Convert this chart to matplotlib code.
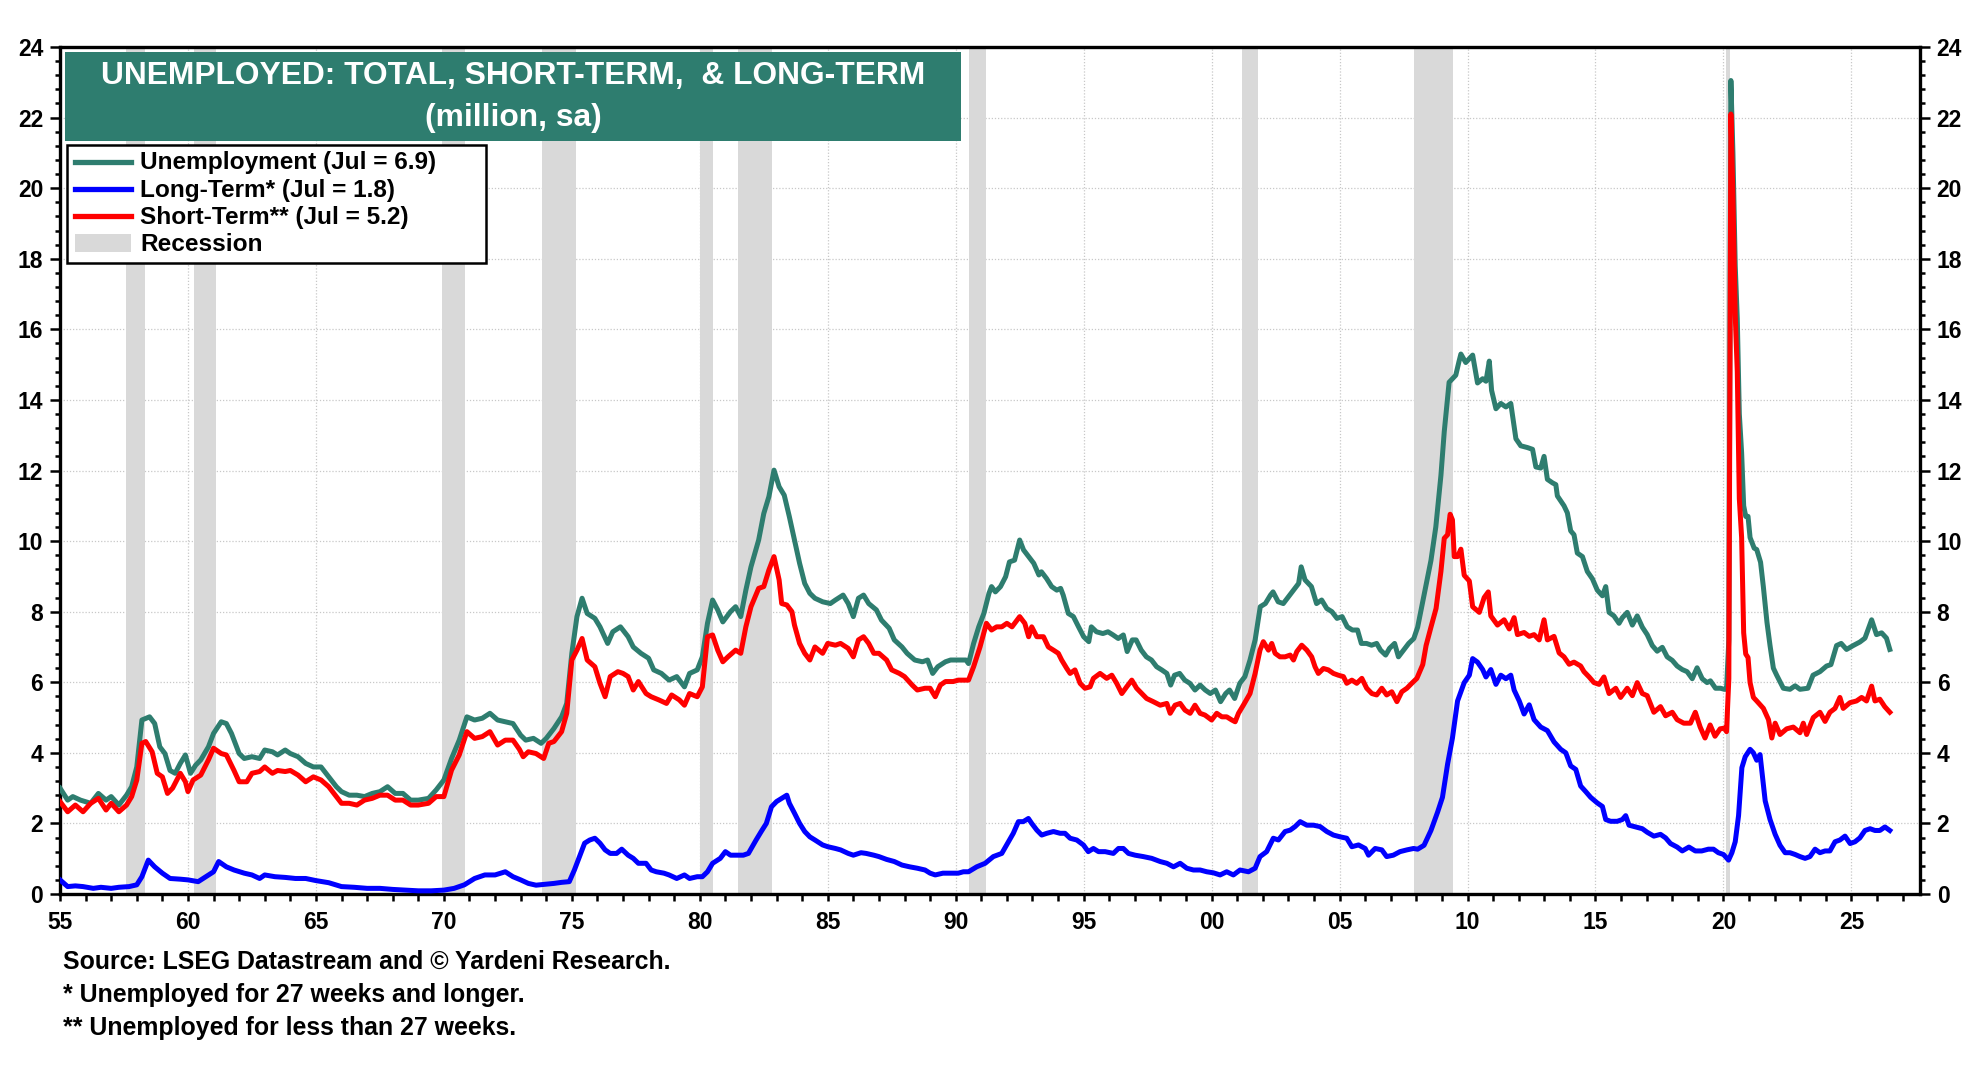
import matplotlib
matplotlib.use('Agg')
import matplotlib.pyplot as plt
from matplotlib.patches import Rectangle
from matplotlib.lines import Line2D
from matplotlib.ticker import MultipleLocator, FuncFormatter

# ---------------- DATA (million, sa) ----------------
total_x = [1955.0,1955.3,1955.5,1955.8,1956.2,1956.5,1956.8,1957.0,1957.3,1957.6,1957.8,1958.0,1958.2,1958.5,1958.7,1958.9,
           1959.1,1959.3,1959.5,1959.7,1959.9,1960.1,1960.3,1960.5,1960.8,1961.0,1961.3,1961.5,1961.7,1962.0,1962.2,1962.5,
           1962.8,1963.0,1963.3,1963.5,1963.8,1964.0,1964.3,1964.6,1964.9,1965.2,1965.5,1965.8,1966.0,1966.3,1966.6,1966.9,
           1967.2,1967.5,1967.8,1968.1,1968.4,1968.7,1969.0,1969.4,1969.7,1970.0,1970.3,1970.6,1970.9,1971.2,1971.5,1971.8,
           1972.1,1972.4,1972.7,1973.0,1973.2,1973.5,1973.8,1974.0,1974.3,1974.6,1974.8,1975.0,1975.2,1975.4,1975.6,1975.9,
           1976.1,1976.4,1976.6,1976.9,1977.2,1977.4,1977.7,1978.0,1978.2,1978.5,1978.8,1979.1,1979.4,1979.6,1979.9,1980.1,
           1980.3,1980.5,1980.7,1980.9,1981.2,1981.4,1981.6,1981.8,1982.0,1982.3,1982.5,1982.7,1982.9,1983.1,1983.3,1983.5,
           1983.7,1983.9,1984.1,1984.3,1984.5,1984.8,1985.1,1985.3,1985.6,1985.8,1986.0,1986.2,1986.4,1986.6,1986.9,1987.1,
           1987.4,1987.6,1987.9,1988.1,1988.4,1988.7,1988.9,1989.1,1989.3,1989.6,1989.8,1990.1,1990.4,1990.5,1990.7,1990.9,
           1991.1,1991.3,1991.4,1991.55,1991.75,1991.95,1992.1,1992.3,1992.5,1992.65,1992.85,1993.05,1993.25,1993.35,1993.55,
           1993.75,1993.95,1994.1,1994.2,1994.4,1994.6,1994.8,1995.0,1995.2,1995.3,1995.5,1995.75,1995.95,1996.15,1996.35,
           1996.55,1996.7,1996.9,1997.05,1997.25,1997.45,1997.65,1997.85,1998.05,1998.25,1998.4,1998.55,1998.75,1998.95,
           1999.15,1999.35,1999.55,1999.75,1999.95,2000.15,2000.35,2000.55,2000.7,2000.9,2001.1,2001.3,2001.5,2001.7,2001.9,
           2002.1,2002.3,2002.4,2002.6,2002.8,2003.0,2003.2,2003.4,2003.5,2003.65,2003.9,2004.1,2004.3,2004.5,2004.7,2004.9,
           2005.1,2005.3,2005.5,2005.7,2005.85,2006.05,2006.25,2006.45,2006.6,2006.8,2006.95,2007.15,2007.3,2007.5,2007.7,
           2007.9,2008.05,2008.31,2008.57,2008.76,2008.96,2009.09,2009.28,2009.41,2009.54,2009.67,2009.74,2009.93,2010.2,
           2010.39,2010.59,2010.72,2010.85,2010.94,2011.11,2011.3,2011.5,2011.69,2011.89,2012.08,2012.34,2012.54,2012.67,
           2012.86,2012.99,2013.12,2013.32,2013.45,2013.51,2013.77,2013.9,2014.03,2014.16,2014.29,2014.49,2014.68,2014.88,
           2015.07,2015.27,2015.4,2015.53,2015.72,2015.92,2016.05,2016.24,2016.44,2016.63,2016.83,2017.02,2017.22,2017.41,
           2017.61,2017.8,2018.0,2018.19,2018.39,2018.58,2018.78,2018.97,2019.17,2019.36,2019.49,2019.69,2019.88,2020.04,
           2020.12,2020.21,2020.29,2020.37,2020.46,2020.54,2020.62,2020.71,2020.79,2020.87,2020.96,2021.04,2021.2,2021.3,
           2021.45,2021.56,2021.7,2021.82,2021.95,2022.08,2022.34,2022.6,2022.8,2022.99,2023.3,2023.5,2023.77,2024.03,2024.2,
           2024.42,2024.6,2024.81,2025.07,2025.33,2025.53,2025.79,2025.98,2026.18,2026.37,2026.5]
total_y = [3.0,2.66,2.76,2.66,2.57,2.85,2.66,2.76,2.52,2.8,3.04,3.6,4.93,5.02,4.83,4.17,
           3.98,3.5,3.42,3.7,3.94,3.42,3.65,3.8,4.17,4.55,4.88,4.83,4.55,3.98,3.84,3.89,
           3.84,4.08,4.03,3.94,4.08,3.98,3.89,3.7,3.6,3.6,3.32,3.04,2.9,2.8,2.8,2.76,
           2.85,2.9,3.04,2.85,2.85,2.66,2.66,2.71,2.95,3.23,3.84,4.36,5.02,4.93,4.98,5.12,
           4.93,4.88,4.83,4.5,4.36,4.41,4.27,4.41,4.69,5.02,5.4,6.82,7.86,8.38,7.95,7.81,
           7.57,7.1,7.43,7.57,7.29,7.0,6.82,6.68,6.35,6.25,6.06,6.16,5.87,6.25,6.35,6.72,
           7.67,8.33,8.05,7.71,8.0,8.14,7.86,8.61,9.27,10.03,10.78,11.26,12.01,11.54,11.3,10.69,
           10.03,9.37,8.8,8.52,8.38,8.28,8.23,8.33,8.47,8.23,7.86,8.38,8.47,8.23,8.05,7.76,
           7.53,7.2,7.0,6.82,6.63,6.58,6.63,6.25,6.44,6.58,6.63,6.63,6.63,6.53,7.1,7.57,
           7.95,8.52,8.71,8.56,8.71,8.99,9.41,9.46,10.03,9.75,9.56,9.37,9.04,9.13,8.94,
           8.71,8.61,8.66,8.47,7.95,7.86,7.57,7.29,7.15,7.57,7.43,7.38,7.43,7.34,7.24,
           7.34,6.87,7.2,7.2,6.91,6.72,6.63,6.44,6.35,6.25,5.92,6.2,6.25,6.06,
           5.97,5.78,5.92,5.78,5.68,5.78,5.45,5.68,5.78,5.54,5.97,6.16,6.63,7.2,8.14,
           8.23,8.47,8.56,8.28,8.23,8.42,8.61,8.8,9.27,8.9,8.71,8.23,8.33,8.09,8.0,7.81,
           7.86,7.57,7.48,7.48,7.1,7.1,7.05,7.1,6.91,6.77,6.96,7.1,6.72,6.91,7.1,
           7.24,7.56,8.5,9.45,10.4,11.86,13.1,14.5,14.6,14.7,15.1,15.3,15.06,15.27,
           14.48,14.6,14.53,15.1,14.27,13.75,13.9,13.8,13.9,12.9,12.7,12.65,12.6,12.1,
           12.07,12.4,11.75,11.65,11.6,11.28,11.0,10.8,10.29,10.18,9.66,9.56,9.14,8.93,
           8.61,8.45,8.71,7.98,7.88,7.67,7.83,7.98,7.62,7.88,7.56,7.35,7.04,6.88,
           6.99,6.72,6.62,6.46,6.36,6.3,6.1,6.41,6.1,5.99,6.04,5.83,5.83,5.8,
           5.8,7.2,23.05,21.0,17.8,16.3,13.6,12.5,11.0,10.7,10.7,10.1,9.8,9.76,
           9.4,8.7,7.7,7.04,6.4,6.2,5.83,5.8,5.9,5.8,5.83,6.2,6.3,6.46,6.5,
           7.04,7.1,6.93,7.04,7.14,7.25,7.77,7.35,7.4,7.25,6.93]

short_x = [1955.0,1955.3,1955.6,1955.9,1956.2,1956.5,1956.8,1957.0,1957.3,1957.6,1957.8,1958.0,1958.2,1958.35,1958.6,1958.8,
           1959.0,1959.2,1959.4,1959.7,1959.9,1960.0,1960.2,1960.5,1960.8,1961.0,1961.3,1961.5,1961.8,1962.0,1962.3,1962.5,
           1962.8,1963.0,1963.3,1963.5,1963.8,1964.0,1964.3,1964.6,1964.9,1965.2,1965.5,1965.8,1966.0,1966.3,1966.6,1966.9,
           1967.2,1967.5,1967.8,1968.1,1968.4,1968.7,1969.0,1969.4,1969.7,1970.0,1970.3,1970.6,1970.9,1971.2,1971.5,1971.8,
           1972.1,1972.4,1972.7,1972.95,1973.1,1973.3,1973.6,1973.9,1974.1,1974.3,1974.6,1974.8,1975.0,1975.2,1975.4,1975.6,
           1975.9,1976.1,1976.3,1976.5,1976.8,1977.0,1977.2,1977.4,1977.6,1977.9,1978.1,1978.4,1978.7,1978.9,1979.2,1979.4,
           1979.6,1979.9,1980.1,1980.3,1980.5,1980.7,1980.9,1981.1,1981.4,1981.6,1981.8,1982.0,1982.3,1982.5,1982.7,1982.9,
           1983.1,1983.2,1983.4,1983.6,1983.7,1983.9,1984.1,1984.3,1984.5,1984.8,1985.0,1985.3,1985.5,1985.8,1986.0,1986.2,
           1986.4,1986.6,1986.8,1987.0,1987.3,1987.5,1987.8,1988.0,1988.3,1988.5,1988.8,1989.0,1989.2,1989.4,1989.6,1989.9,
           1990.1,1990.5,1990.7,1990.95,1991.2,1991.4,1991.6,1991.8,1992.0,1992.2,1992.4,1992.5,1992.7,1992.85,1992.97,
           1993.17,1993.43,1993.62,1993.82,1994.01,1994.14,1994.34,1994.47,1994.66,1994.86,1995.05,1995.25,1995.38,1995.64,
           1995.9,1996.1,1996.29,1996.49,1996.68,1996.88,1997.07,1997.27,1997.46,1997.72,1997.99,1998.25,1998.38,1998.57,
           1998.77,1998.96,1999.16,1999.35,1999.55,1999.74,2000.0,2000.2,2000.4,2000.59,2000.79,2000.92,2001.05,2001.24,
           2001.5,2001.7,2001.89,2002.02,2002.22,2002.35,2002.48,2002.67,2002.87,2003.07,2003.2,2003.33,2003.52,2003.72,
           2003.91,2004.04,2004.17,2004.37,2004.56,2004.76,2004.95,2005.15,2005.28,2005.48,2005.67,2005.87,2006.06,2006.26,
           2006.45,2006.65,2006.84,2007.04,2007.24,2007.43,2007.63,2007.82,2008.02,2008.25,2008.38,2008.57,2008.77,2008.96,
           2009.09,2009.22,2009.32,2009.41,2009.48,2009.61,2009.74,2009.87,2010.07,2010.2,2010.46,2010.65,2010.81,2010.91,
           2011.17,2011.43,2011.63,2011.82,2011.95,2012.21,2012.41,2012.6,2012.8,2012.99,2013.12,2013.38,2013.58,2013.77,
           2013.97,2014.16,2014.42,2014.55,2014.75,2014.94,2015.14,2015.33,2015.53,2015.79,2015.98,2016.24,2016.44,2016.63,
           2016.83,2017.02,2017.28,2017.54,2017.74,2018.0,2018.19,2018.45,2018.71,2018.9,2019.09,2019.28,2019.48,2019.67,
           2019.87,2020.04,2020.12,2020.21,2020.29,2020.37,2020.46,2020.54,2020.62,2020.71,2020.79,2020.87,2020.96,2021.04,
           2021.17,2021.3,2021.56,2021.76,2021.89,2022.02,2022.21,2022.47,2022.73,2022.99,2023.12,2023.25,2023.51,2023.77,
           2023.97,2024.16,2024.36,2024.55,2024.68,2024.94,2025.2,2025.4,2025.59,2025.79,2025.92,2026.11,2026.3,2026.5]
short_y = [2.62,2.33,2.52,2.33,2.57,2.71,2.38,2.57,2.33,2.52,2.76,3.23,4.27,4.32,4.03,3.42,
           3.32,2.85,3.0,3.42,3.18,2.9,3.23,3.37,3.8,4.13,3.98,3.94,3.5,3.18,3.18,3.42,
           3.47,3.6,3.42,3.5,3.47,3.5,3.37,3.18,3.32,3.23,3.04,2.76,2.57,2.57,2.52,2.66,
           2.71,2.8,2.8,2.66,2.66,2.52,2.52,2.57,2.76,2.76,3.51,3.94,4.6,4.41,4.46,4.6,
           4.22,4.36,4.36,4.1,3.89,4.03,3.98,3.84,4.27,4.32,4.6,5.12,6.63,6.91,7.24,6.63,
           6.44,5.97,5.59,6.16,6.3,6.25,6.16,5.78,6.02,5.68,5.59,5.5,5.4,5.64,5.5,5.35,
           5.68,5.59,5.87,7.29,7.34,6.91,6.58,6.72,6.91,6.82,7.57,8.14,8.66,8.71,9.18,9.56,
           8.9,8.23,8.19,8.0,7.62,7.1,6.82,6.63,7.0,6.82,7.1,7.05,7.1,6.96,6.72,7.2,
           7.29,7.1,6.82,6.82,6.63,6.35,6.25,6.16,5.92,5.78,5.83,5.83,5.59,5.92,6.02,6.02,
           6.06,6.06,6.44,7.0,7.67,7.48,7.57,7.57,7.67,7.57,7.76,7.86,7.67,7.29,7.57,
           7.29,7.29,7.0,6.91,6.82,6.63,6.39,6.25,6.35,5.97,5.83,5.87,6.11,6.25,
           6.11,6.2,5.97,5.68,5.87,6.06,5.83,5.68,5.54,5.45,5.35,5.4,5.12,5.35,
           5.4,5.21,5.12,5.35,5.12,5.07,4.93,5.12,5.02,5.02,4.93,4.88,5.12,5.35,
           5.68,6.25,6.91,7.15,6.91,7.1,6.82,6.72,6.72,6.77,6.63,6.87,7.05,6.91,
           6.72,6.44,6.25,6.39,6.35,6.25,6.2,6.16,5.97,6.06,5.97,6.11,5.83,5.68,
           5.64,5.83,5.64,5.73,5.45,5.73,5.83,5.97,6.11,6.5,7.04,7.56,8.09,9.14,
           10.08,10.18,10.76,10.6,9.56,9.56,9.77,9.03,8.87,8.14,7.98,8.4,8.56,7.88,
           7.62,7.77,7.51,7.83,7.35,7.41,7.3,7.35,7.2,7.77,7.2,7.3,6.83,6.72,
           6.51,6.57,6.46,6.3,6.15,5.99,5.94,6.15,5.68,5.83,5.57,5.83,5.62,5.99,
           5.68,5.62,5.15,5.31,5.05,5.15,4.94,4.84,4.84,5.15,4.73,4.42,4.79,4.47,
           4.68,4.7,4.6,6.1,22.1,19.8,16.4,14.8,11.2,10.1,7.4,6.8,6.7,5.99,
           5.57,5.47,5.26,4.94,4.42,4.84,4.52,4.68,4.73,4.57,4.84,4.52,5.0,5.15,
           4.89,5.15,5.26,5.57,5.26,5.42,5.47,5.57,5.47,5.89,5.47,5.52,5.31,5.15]

long_x = [1955.0,1955.3,1955.6,1955.9,1956.3,1956.6,1957.0,1957.3,1957.7,1958.0,1958.2,1958.45,1958.7,1959.0,1959.3,1959.7,
          1960.0,1960.4,1960.7,1961.0,1961.2,1961.5,1961.8,1962.2,1962.5,1962.8,1963.0,1963.4,1963.8,1964.2,1964.6,1965.0,
          1965.5,1966.0,1966.5,1967.0,1967.5,1968.0,1968.5,1969.0,1969.5,1970.0,1970.4,1970.8,1971.2,1971.6,1972.0,1972.4,
          1972.7,1973.0,1973.3,1973.6,1974.0,1974.3,1974.6,1974.9,1975.1,1975.3,1975.5,1975.7,1975.9,1976.1,1976.3,1976.5,
          1976.75,1976.95,1977.2,1977.4,1977.6,1977.9,1978.1,1978.3,1978.6,1978.8,1979.1,1979.4,1979.6,1979.9,1980.1,1980.3,
          1980.5,1980.8,1981.0,1981.2,1981.5,1981.7,1981.9,1982.2,1982.4,1982.6,1982.8,1983.0,1983.2,1983.4,1983.5,1983.7,
          1983.9,1984.1,1984.3,1984.5,1984.8,1985.0,1985.3,1985.5,1985.8,1986.0,1986.3,1986.5,1986.8,1987.0,1987.3,1987.6,
          1987.9,1988.2,1988.5,1988.8,1989.0,1989.2,1989.5,1989.8,1990.1,1990.3,1990.5,1990.82,1991.15,1991.47,1991.8,
          1991.99,1992.25,1992.45,1992.64,1992.84,1992.97,1993.17,1993.36,1993.56,1993.82,1994.08,1994.27,1994.47,1994.73,
          1994.99,1995.18,1995.38,1995.58,1995.84,1996.16,1996.36,1996.55,1996.75,1997.01,1997.33,1997.66,1997.99,1998.25,
          1998.51,1998.77,1999.03,1999.29,1999.55,1999.81,2000.07,2000.33,2000.59,2000.85,2001.11,2001.44,2001.7,2001.89,
          2002.15,2002.41,2002.61,2002.87,2003.07,2003.26,2003.46,2003.72,2003.98,2004.24,2004.5,2004.76,2005.02,2005.28,
          2005.48,2005.74,2006.0,2006.13,2006.39,2006.65,2006.84,2007.1,2007.36,2007.63,2007.89,2008.05,2008.3,2008.57,
          2008.83,2009.02,2009.22,2009.41,2009.61,2009.87,2010.07,2010.2,2010.39,2010.59,2010.72,2010.91,2011.11,2011.3,
          2011.5,2011.69,2011.82,2012.02,2012.21,2012.41,2012.6,2012.86,2013.12,2013.38,2013.64,2013.84,2014.03,2014.23,
          2014.42,2014.62,2014.81,2015.07,2015.27,2015.4,2015.59,2015.85,2016.05,2016.18,2016.31,2016.57,2016.83,2017.02,
          2017.28,2017.54,2017.74,2017.93,2018.19,2018.39,2018.65,2018.9,2019.15,2019.41,2019.61,2019.8,2020.0,2020.2,
          2020.33,2020.46,2020.59,2020.72,2020.85,2021.04,2021.17,2021.3,2021.43,2021.63,2021.82,2022.02,2022.21,2022.41,
          2022.6,2022.8,2022.99,2023.19,2023.38,2023.58,2023.77,2023.97,2024.16,2024.36,2024.55,2024.75,2024.95,2025.14,
          2025.33,2025.53,2025.73,2025.92,2026.11,2026.31,2026.5]
long_y = [0.40,0.21,0.23,0.21,0.16,0.19,0.16,0.19,0.21,0.26,0.49,0.96,0.77,0.59,0.44,0.42,
          0.40,0.35,0.49,0.63,0.92,0.77,0.68,0.59,0.54,0.44,0.54,0.49,0.47,0.44,0.44,0.38,
          0.32,0.21,0.19,0.16,0.16,0.13,0.11,0.09,0.09,0.11,0.16,0.26,0.44,0.54,0.54,0.63,
          0.49,0.40,0.30,0.25,0.28,0.30,0.33,0.35,0.68,1.06,1.44,1.53,1.58,1.44,1.25,1.15,
          1.15,1.27,1.1,1.01,0.87,0.87,0.68,0.63,0.59,0.54,0.44,0.54,0.44,0.49,0.49,0.63,
          0.87,1.01,1.2,1.1,1.1,1.1,1.15,1.53,1.77,2.0,2.47,2.62,2.71,2.8,2.57,2.29,
          2.0,1.77,1.62,1.53,1.39,1.34,1.29,1.25,1.15,1.1,1.17,1.15,1.1,1.06,0.98,0.92,
          0.82,0.77,0.73,0.68,0.59,0.54,0.59,0.59,0.59,0.63,0.63,0.77,0.87,1.06,1.15,
          1.39,1.72,2.05,2.05,2.14,2.0,1.81,1.67,1.72,1.77,1.72,1.72,1.58,1.53,
          1.39,1.2,1.29,1.2,1.2,1.15,1.29,1.29,1.15,1.1,1.06,1.01,0.92,0.87,
          0.77,0.87,0.73,0.68,0.68,0.63,0.6,0.54,0.63,0.54,0.68,0.63,0.73,1.06,
          1.2,1.58,1.53,1.77,1.81,1.91,2.05,1.95,1.95,1.91,1.77,1.67,1.62,1.58,
          1.34,1.39,1.29,1.1,1.29,1.25,1.06,1.1,1.2,1.25,1.29,1.27,1.38,1.8,
          2.32,2.74,3.68,4.42,5.47,5.99,6.2,6.67,6.57,6.36,6.15,6.36,5.94,6.2,
          6.1,6.2,5.78,5.47,5.1,5.36,4.94,4.73,4.63,4.31,4.1,4.0,3.63,3.53,
          3.06,2.9,2.74,2.58,2.48,2.11,2.06,2.06,2.11,2.22,1.95,1.9,1.85,1.75,
          1.64,1.69,1.59,1.43,1.33,1.22,1.33,1.22,1.22,1.27,1.27,1.17,1.12,0.96,
          1.17,1.48,2.22,3.58,3.89,4.1,4.0,3.79,3.95,2.64,2.11,1.69,1.38,1.17,
          1.17,1.12,1.06,1.01,1.06,1.27,1.17,1.22,1.22,1.48,1.53,1.64,1.43,1.48,
          1.59,1.8,1.85,1.8,1.8,1.9,1.8]

recession_start = [1957.58, 1960.25, 1969.92, 1973.83, 1980.0, 1981.5, 1990.5, 2001.17, 2007.92, 2020.08]
recession_end   = [1958.33, 1961.08, 1970.83, 1975.17, 1980.5, 1982.83, 1991.17, 2001.83, 2009.42, 2020.25]

title_lines = ["UNEMPLOYED: TOTAL, SHORT-TERM,  & LONG-TERM", "(million, sa)"]
legend_labels = ["Unemployment (Jul = 6.9)", "Long-Term* (Jul = 1.8)", "Short-Term** (Jul = 5.2)", "Recession"]
footnotes = ["Source: LSEG Datastream and \u00a9 Yardeni Research.",
             "* Unemployed for 27 weeks and longer.",
             "** Unemployed for less than 27 weeks."]

# ---------------- STYLE ----------------
TEAL = '#2E7D6F'
BLUE = '#0000FF'
RED = '#FF0000'
GREY = '#D9D9D9'

plt.rcParams['font.family'] = ['Liberation Sans', 'DejaVu Sans']
plt.rcParams['font.weight'] = 'bold'

W, H = 1980, 1080
fig = plt.figure(figsize=(W / 100, H / 100), dpi=100)
ax = fig.add_axes([60 / W, 1 - 894 / H, 1860 / W, 847 / H])

for s, e in zip(recession_start, recession_end):
    ax.axvspan(s, e, color=GREY, lw=0, zorder=1)

ax.plot(total_x, total_y, color=TEAL, lw=3.6, zorder=3, solid_joinstyle='round')
ax.plot(long_x, long_y, color=BLUE, lw=3.6, zorder=4, solid_joinstyle='round')
ax.plot(short_x, short_y, color=RED, lw=3.6, zorder=5, solid_joinstyle='round')

ax.set_xlim(1955, 2027.68)
ax.set_ylim(0, 24)
ax.xaxis.set_major_locator(MultipleLocator(5))
ax.xaxis.set_minor_locator(MultipleLocator(1))
ax.yaxis.set_major_locator(MultipleLocator(2))
ax.yaxis.set_minor_locator(MultipleLocator(0.4))
ax.xaxis.set_major_formatter(FuncFormatter(lambda v, p: f"{int(round(v)) % 100:02d}"))
ax.yaxis.set_major_formatter(FuncFormatter(lambda v, p: f"{int(round(v))}"))

ax.grid(which='major', color='#C8C8C8', lw=0.9, ls=(0, (1, 1.5)), zorder=0)
ax.set_axisbelow(True)

for sp in ax.spines.values():
    sp.set_linewidth(2.4)
    sp.set_color('black')

ax.tick_params(axis='y', which='both', direction='out', left=True, right=True,
               labelleft=True, labelright=True, width=1.8, labelsize=16.5)
ax.tick_params(axis='y', which='major', length=7, pad=5)
ax.tick_params(axis='y', which='minor', length=3.6)
ax.tick_params(axis='x', which='both', direction='out', width=1.8, labelsize=16.5)
ax.tick_params(axis='x', which='major', length=5, pad=7.5)
ax.tick_params(axis='x', which='minor', length=5)
for lab in ax.get_xticklabels() + ax.get_yticklabels():
    lab.set_fontweight('bold')

def fx(px):
    return px / W

def fy(py):
    return 1 - py / H

# Title box
fig.add_artist(Rectangle((fx(65), fy(141)), (961 - 65) / W, (141 - 52) / H,
                         transform=fig.transFigure, facecolor=TEAL, edgecolor='none', zorder=10))
fig.text(fx(513), fy(84), title_lines[0], color='white', fontsize=22.9, fontweight='bold',
         ha='center', va='baseline', zorder=11)
fig.text(fx(513), fy(126), title_lines[1], color='white', fontsize=22.9, fontweight='bold',
         ha='center', va='baseline', zorder=11)

# Legend box
fig.add_artist(Rectangle((fx(67), fy(263)), (486 - 67) / W, (263 - 145) / H,
                         transform=fig.transFigure, facecolor='white', edgecolor='black',
                         lw=1.8, zorder=10))
handle_colors = [TEAL, BLUE, RED]
row_center = [162, 189, 216]
row_base = [169.5, 196.7, 224, 251.3]
for c, yc in zip(handle_colors, row_center):
    fig.add_artist(Line2D([fx(75), fx(131)], [fy(yc), fy(yc)], transform=fig.transFigure,
                          color=c, lw=3.8, zorder=11))
fig.add_artist(Rectangle((fx(75), fy(252)), 56 / W, 18 / H, transform=fig.transFigure,
                         facecolor=GREY, edgecolor='none', zorder=11))
for lab, yb in zip(legend_labels, row_base):
    fig.text(fx(140), fy(yb), lab, fontsize=17.6, fontweight='bold', color='black',
             ha='left', va='baseline', zorder=11)

# Footnotes
for txt, yb in zip(footnotes, [969, 1002, 1035]):
    fig.text(fx(63), fy(yb), txt, fontsize=17.9, fontweight='bold', color='black',
             ha='left', va='baseline')

fig.savefig('out.png', dpi=100)
